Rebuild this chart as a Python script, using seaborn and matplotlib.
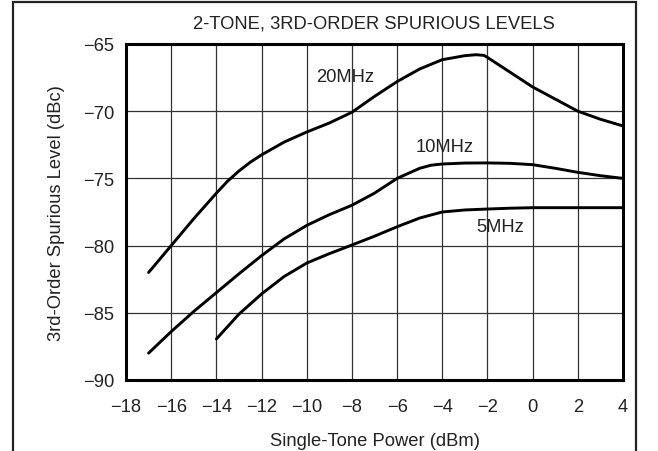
import numpy as np
import pandas as pd
import matplotlib
matplotlib.use("Agg")
import matplotlib.pyplot as plt
import seaborn as sns
from matplotlib.patches import Rectangle

# Data
x20 = [-17, -16, -15, -14, -13.5, -13, -12.5, -12, -11, -10, -9, -8, -7, -6, -5, -4, -3, -2.5, -2.15, -2, -1, 0, 1, 2, 3, 4]
y20 = [-82.0, -80.0, -78.0, -76.1, -75.2, -74.45, -73.8, -73.25, -72.3, -71.55, -70.88, -70.08, -68.9, -67.8, -66.86, -66.17, -65.87, -65.8, -65.85, -66.0, -67.1, -68.2, -69.1, -70.0, -70.6, -71.1]

x10 = [-17, -16, -15, -14, -13, -12, -11, -10, -9, -8, -7, -6, -5, -4.5, -4, -3, -2, -1, 0, 1, 2, 3, 4]
y10 = [-88.0, -86.4, -84.9, -83.5, -82.1, -80.75, -79.5, -78.5, -77.7, -77.0, -76.1, -75.0, -74.25, -74.02, -73.93, -73.86, -73.85, -73.88, -73.98, -74.25, -74.55, -74.8, -75.0]

x5 = [-14, -13, -12, -11, -10, -9, -8, -7, -6, -5, -4, -3, -2, -1, 0, 1, 2, 3, 4]
y5 = [-86.95, -85.1, -83.6, -82.3, -81.3, -80.6, -79.96, -79.3, -78.6, -77.95, -77.5, -77.35, -77.28, -77.22, -77.18, -77.18, -77.18, -77.18, -77.18]

series_names = ["20MHz", "10MHz", "5MHz"]
label_pos_x = [-8.3, -3.9, -1.45]
label_pos_y = [-67.45, -72.66, -78.6]

x_ticks = [-18, -16, -14, -12, -10, -8, -6, -4, -2, 0, 2, 4]
y_ticks = [-90, -85, -80, -75, -70, -65]

df = pd.concat([
    pd.DataFrame({"x": x20, "y": y20, "f": "20MHz"}),
    pd.DataFrame({"x": x10, "y": y10, "f": "10MHz"}),
    pd.DataFrame({"x": x5, "y": y5, "f": "5MHz"}),
])

sns.set_theme(style="white")
plt.rcParams['font.family'] = ['Liberation Sans', 'DejaVu Sans']

FS = 13.2
TXT = "#222222"

fig = plt.figure(figsize=(6.58, 4.52), dpi=100)
ax = fig.add_axes([0.1915, 0.1571, 0.7553, 0.7434])

sns.lineplot(data=df, x="x", y="y", hue="f", palette=["black"] * 3,
             legend=False, ax=ax, linewidth=2.1, sort=True)

ax.set_xlim(-18, 4)
ax.set_ylim(-90, -65)
ax.set_xticks(x_ticks)
ax.set_yticks(y_ticks)
ax.set_xticklabels([f"{t}".replace("-", "\u2212") for t in x_ticks], fontsize=FS, color=TXT)
ax.set_yticklabels([f"{t}".replace("-", "\u2212") for t in y_ticks], fontsize=FS, color=TXT)
ax.tick_params(axis="x", length=0, pad=13)
ax.tick_params(axis="y", length=0, pad=8.5)
ax.grid(True, color="#333333", linewidth=0.9)
for s in ax.spines.values():
    s.set_visible(True)
    s.set_color("black")
    s.set_linewidth(2.2)

for name, lx, ly in zip(series_names, label_pos_x, label_pos_y):
    ax.text(lx, ly, name, fontsize=FS, ha="center", va="center", color=TXT)

ax.set_xlabel("Single-Tone Power (dBm)", fontsize=FS, color=TXT, labelpad=12)
ax.set_ylabel("3rd-Order Spurious Level (dBc)", fontsize=FS, color=TXT, labelpad=13)

fig.text(0.568, 0.947, "2-TONE, 3RD-ORDER SPURIOUS LEVELS", fontsize=FS,
         ha="center", va="center", color=TXT)

fig.patches.append(Rectangle((13 / 658, -0.05), (636 - 13) / 658, 1.05 - 2.5 / 452,
                             transform=fig.transFigure, fill=False,
                             edgecolor="#222222", linewidth=1.6))

fig.savefig("out.png", dpi=100)
